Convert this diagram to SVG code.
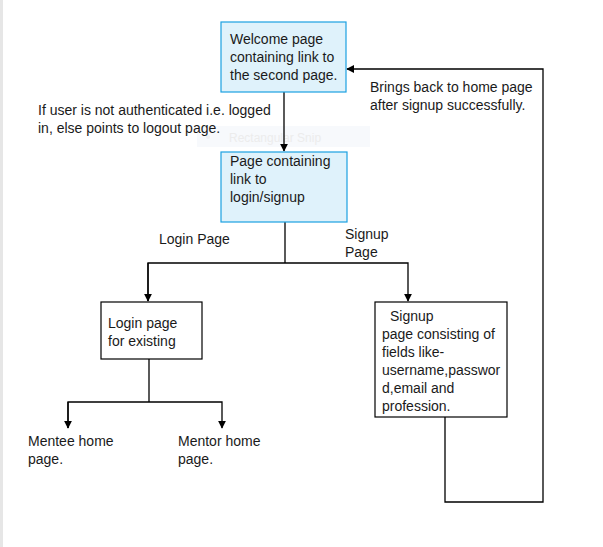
<svg xmlns="http://www.w3.org/2000/svg" width="603" height="547" viewBox="0 0 603 547">
<defs>
<marker id="ah" viewBox="0 0 10 10" refX="9" refY="5" markerWidth="8" markerHeight="8" markerUnits="userSpaceOnUse" orient="auto">
<path d="M0,0 L10,5 L0,10 z" fill="#000"/>
</marker>
<style>
text{font-family:"Liberation Sans",Arial,sans-serif;font-size:14px;fill:#1a1a1a}
.blue{fill:#dff2fb;stroke:#1ba1e2;stroke-width:1.2}
.plain{fill:#fff;stroke:#000;stroke-width:1.2}
.ln{fill:none;stroke:#000;stroke-width:1.3}
</style>
</defs>
<rect width="603" height="547" fill="#fff"/>
<rect x="0" y="0" width="3" height="547" fill="#e6e6e6"/>
<g id="snip">
<rect x="197" y="126" width="173" height="21" fill="#f7f9fc"/>
<circle cx="208" cy="137" r="2" fill="#eef0f3"/>
<text x="229" y="142" style="font-size:12px;fill:#ececec">Rectangular Snip</text>
</g>
<g id="connectors">
<line class="ln" x1="284" y1="92" x2="284" y2="151" marker-end="url(#ah)"/>
<polyline class="ln" points="285,222 285,263"/>
<polyline class="ln" points="148,301 148,263 408,263 408,301" marker-end="url(#ah)"/>
<line class="ln" x1="148" y1="263" x2="148" y2="301" marker-end="url(#ah)"/>
<polyline class="ln" points="149,359 149,402"/>
<polyline class="ln" points="68,428 68,402 222,402 222,428" marker-end="url(#ah)"/>
<line class="ln" x1="68" y1="402" x2="68" y2="428" marker-end="url(#ah)"/>
<polyline class="ln" points="445,417 445,502 543,502 543,69 347,69" marker-end="url(#ah)"/>
</g>
<g id="welcome">
<rect class="blue" x="221" y="22" width="125" height="70"/>
<text x="230" y="44">Welcome page</text>
<text x="230" y="62">containing link to</text>
<text x="230" y="80">the second page.</text>
</g>
<g id="auth-label">
<text x="38" y="115">If user is not authenticated i.e. logged</text>
<text x="38" y="133">in, else points to logout page.</text>
</g>
<g id="back-label">
<text x="370" y="92">Brings back to home page</text>
<text x="370" y="110">after signup successfully.</text>
</g>
<g id="page2">
<rect class="blue" x="221" y="152" width="126" height="70"/>
<text x="230" y="166">Page containing</text>
<text x="230" y="184">link to</text>
<text x="230" y="202">login/signup</text>
</g>
<g id="login-label"><text x="159" y="244">Login Page</text></g>
<g id="signup-label">
<text x="345" y="239">Signup</text>
<text x="345" y="257">Page</text>
</g>
<g id="login">
<rect class="plain" x="101" y="302" width="101" height="57"/>
<text x="108" y="328">Login page</text>
<text x="108" y="346">for existing</text>
</g>
<g id="signup">
<rect class="plain" x="375" y="302" width="132" height="115"/>
<text x="390" y="321">Signup</text>
<text x="382" y="339">page consisting of</text>
<text x="382" y="357">fields like-</text>
<text x="382" y="375">username,passwor</text>
<text x="382" y="393">d,email and</text>
<text x="382" y="411">profession.</text>
</g>
<g id="mentee">
<text x="28" y="446">Mentee home</text>
<text x="28" y="464">page.</text>
</g>
<g id="mentor">
<text x="178" y="446">Mentor home</text>
<text x="178" y="464">page.</text>
</g>
</svg>
